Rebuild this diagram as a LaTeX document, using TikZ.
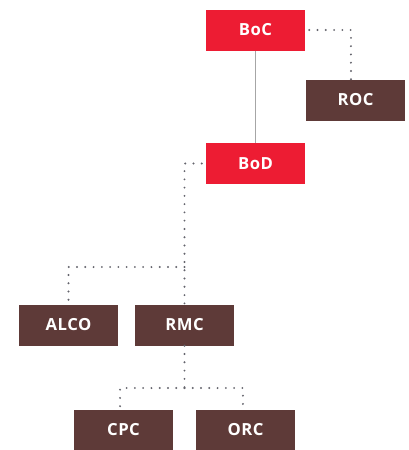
\documentclass[tikz,border=0pt]{standalone}
\usepackage{fontspec}
\setmainfont{Open Sans}[LetterSpace=3]
\definecolor{bocred}{RGB}{237,28,51}
\definecolor{combrown}{RGB}{94,58,56}
\definecolor{dotgray}{RGB}{100,100,108}
\tikzset{
  board/.style={fill=bocred, text=white, font=\fontsize{12.5}{14}\selectfont\bfseries,
    minimum width=74.25pt, minimum height=30.75pt, inner sep=0pt},
  committee/.style={board, fill=combrown},
  dotline/.style={dotgray, line width=1.6pt, line cap=round, dash pattern=on 0pt off 6.2pt},
}
\begin{document}
\begin{tikzpicture}[x=0.75pt, y=-0.75pt]
  \useasboundingbox (0,0) rectangle (409,450);

  % Gremien
  \node[board] (boc) at (255.5,30) {BoC};
  \node[committee] (roc) at (355.5,100) {ROC};
  \node[board] (bod) at (255.5,163.5) {BoD};
  \node[committee] (alco) at (68.5,325) {ALCO};
  \node[committee] (rmc) at (184.5,325) {RMC};
  \node[committee] (cpc) at (123.5,430) {CPC};
  \node[committee] (orc) at (245.5,430) {ORC};

  \coordinate (split1) at (184.5,267);
  \coordinate (split2) at (184.5,388);

  % Verbindungen
  \draw[gray!70, line width=1pt] (boc) -- (bod);
  \draw[dotline] ([xshift=3pt]boc.east) -| ([xshift=-3.4pt]roc.north);
  \draw[dotline] ([xshift=-3pt]bod.west) -| (rmc.north);
  \draw[dotline] (split1) -| (alco.north);
  \draw[dotline] (rmc.south) -- (split2);
  \draw[dotline] (split2) -| ([xshift=-2.6pt]cpc.north);
  \draw[dotline] (split2) -| ([xshift=-1.9pt]orc.north);
\end{tikzpicture}
\end{document}
